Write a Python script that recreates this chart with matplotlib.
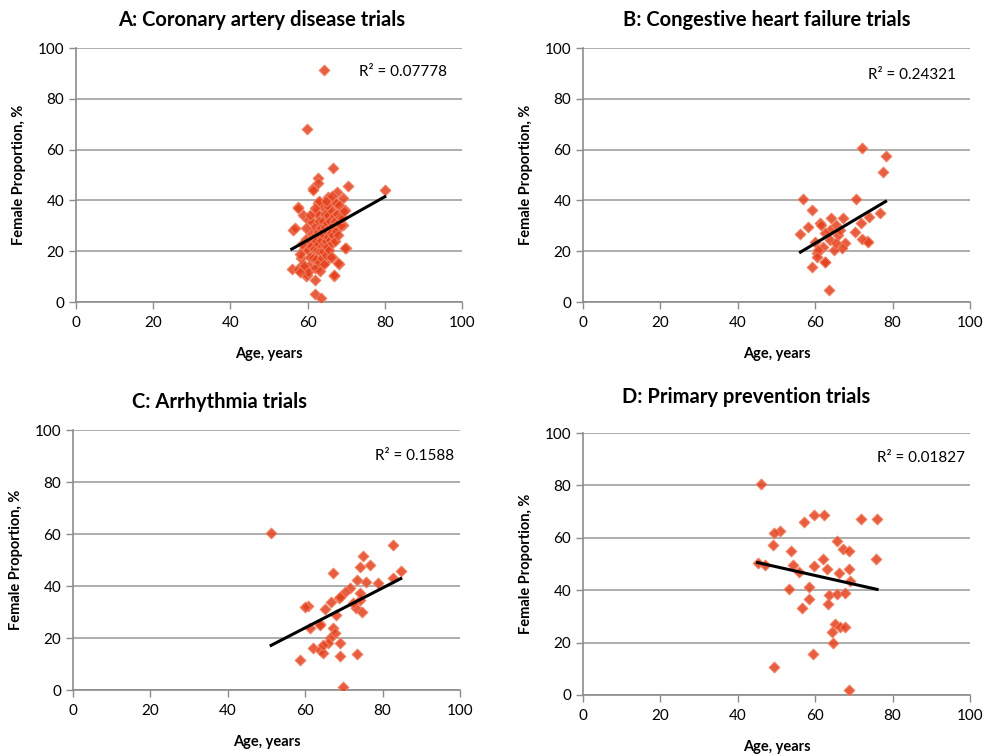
import numpy as np
import matplotlib.pyplot as plt

plt.rcParams['font.family'] = ['Lato', 'DejaVu Sans']

# A: coronary artery disease trials (age, female %)
a_age = [64.3, 59.9, 66.5, 62.8, 70.5, 61.5, 67.5, 57.6, 56.3, 55.9, 59.6, 61.9,
         66.9, 68.1, 70.0, 61.9, 63.4, 80.0, 62.8, 61.5, 65.4, 69.2, 57.6, 62.8,
         64.5, 67.1, 69.7, 58.9, 60.2, 56.7, 61.9, 65.4, 68.0, 69.2, 63.7, 68.0,
         69.7, 68.0, 59.8, 66.9, 62.8, 64.5, 61.0, 66.2,
         58.2, 58.8, 59.1, 59.4, 59.7, 60.0, 60.3, 60.4, 60.6, 60.8, 61.0, 61.1,
         61.3, 61.5, 61.6, 61.8, 62.0, 62.1, 62.2, 62.4, 62.5, 62.6, 62.8, 62.9,
         63.0, 63.1, 63.2, 63.3, 63.4, 63.5, 63.6, 63.7, 63.8, 63.9, 64.0, 64.1,
         64.2, 64.3, 64.4, 64.5, 64.6, 64.7, 64.8, 64.9, 65.0, 65.1, 65.2, 65.3,
         65.4, 65.5, 65.6, 65.7, 65.9, 66.0, 66.1, 66.3, 66.4, 66.5, 66.7, 66.8,
         67.0, 67.2, 67.3, 67.4, 67.6, 67.8, 68.0, 68.2, 68.4, 68.6, 68.9, 69.3,
         57.5, 57.9, 58.5, 59.0, 59.6, 60.1, 61.9, 63.0, 64.8, 66.2, 60.5, 58.0]
a_fem = [91.3, 68.1, 52.6, 48.7, 45.8, 44.8, 43.4, 37.5, 28.3, 12.9, 10.2, 8.7,
         10.2, 15.0, 21.1, 3.0, 1.5, 44.0, 46.7, 44.1, 41.5, 40.8, 36.9, 38.9,
         39.1, 38.9, 36.2, 34.3, 32.3, 29.0, 34.9, 36.2, 33.0, 30.3, 33.0, 29.0,
         21.4, 15.2, 10.6, 10.6, 13.9, 15.9, 17.2, 17.8,
         17.5, 15.0, 21.0, 13.5, 25.0, 20.6, 23.5, 14.0, 17.9, 27.2, 22.0, 31.6,
         17.3, 25.4, 20.8, 13.4, 29.4, 24.1, 17.0, 20.5, 35.0, 27.4, 22.9, 15.7,
         32.0, 26.3, 19.9, 12.4, 29.2, 24.4, 17.4, 37.8, 22.2, 28.1, 31.9, 19.9,
         26.2, 14.8, 34.7, 22.0, 29.6, 24.0, 18.6, 31.3, 27.5, 21.8, 37.8, 25.5,
         34.4, 20.4, 29.1, 24.4, 31.7, 17.6, 27.1, 35.8, 23.1, 30.3, 26.3, 33.7,
         24.0, 32.0, 39.0, 28.0, 34.5, 31.0, 26.5, 38.0, 33.5, 30.5, 33.0, 36.0,
         13.0, 19.0, 23.0, 14.0, 29.0, 12.0, 37.1, 39.8, 39.6, 41.7, 34.4, 12.0]

# B: congestive heart failure trials
b_age = [72.2, 78.2, 77.5, 56.8, 70.5, 59.1, 76.7, 74.0, 71.8, 56.2, 58.2, 61.2,
         64.2, 67.3, 70.3, 73.3, 72.0, 59.1, 62.6, 63.7, 60.4, 59.9, 62.1, 63.8,
         66.0, 67.7, 66.9, 64.8, 60.8, 61.5, 63.8, 65.5, 66.4, 62.5, 65.5, 73.7,
         60.4, 62.5]
b_fem = [60.7, 57.5, 51.0, 40.7, 40.7, 36.1, 34.9, 33.3, 31.2, 26.8, 29.4, 31.0,
         33.0, 33.0, 27.7, 24.1, 25.0, 13.9, 15.9, 4.7, 19.2, 23.7, 21.8, 24.4,
         26.4, 23.1, 21.1, 20.5, 20.5, 30.3, 28.3, 30.3, 28.3, 27.0, 23.1, 23.7,
         17.8, 15.9]

# C: arrhythmia trials
c_age = [51.2, 82.8, 75.0, 74.2, 76.7, 84.7, 82.6, 78.9, 75.7, 73.3, 67.3, 71.6,
         70.3, 68.8, 66.7, 65.1, 60.8, 60.0, 74.2, 73.1, 74.6, 68.0, 63.8, 61.2,
         67.3, 67.7, 66.4, 66.0, 69.0, 62.1, 63.8, 64.7, 58.7, 69.0, 73.3, 69.7,
         69.0, 74.2, 72.4, 63.8, 64.7]
c_fem = [60.5, 55.9, 51.7, 47.4, 48.1, 45.9, 43.2, 41.0, 41.7, 42.3, 44.9, 39.1,
         37.8, 35.3, 34.0, 31.2, 32.3, 32.0, 34.6, 31.4, 30.1, 28.8, 25.4, 23.7,
         23.7, 21.8, 19.9, 18.0, 18.2, 16.0, 15.4, 14.1, 11.5, 13.2, 13.7, 1.3,
         35.9, 37.2, 33.3, 25.0, 17.3]

# D: primary prevention trials
d_age = [45.9, 59.8, 62.3, 57.2, 71.8, 50.9, 49.4, 49.2, 65.6, 67.3, 68.8, 53.7,
         45.1, 47.0, 54.2, 55.9, 59.8, 61.9, 63.0, 66.2, 68.8, 68.9, 53.3, 58.4,
         58.4, 56.7, 63.6, 65.7, 67.7, 63.2, 65.1, 66.4, 67.7, 64.3, 64.7, 59.5,
         49.4, 68.7, 76.0, 75.8]
d_fem = [80.4, 68.6, 68.6, 66.0, 67.1, 62.6, 61.7, 57.3, 58.8, 55.7, 55.0, 55.0,
         50.3, 49.6, 49.6, 47.1, 49.4, 51.9, 48.0, 46.4, 48.0, 43.5, 40.3, 41.3,
         36.5, 33.3, 38.2, 38.5, 38.8, 34.7, 27.1, 26.1, 26.1, 23.9, 19.7, 15.6,
         10.8, 1.9, 67.0, 52.0]

titles = ['A: Coronary artery disease trials', 'B: Congestive heart failure trials',
          'C: Arrhythmia trials', 'D: Primary prevention trials']
r2_labels = ['R\u00b2 = 0.07778', 'R\u00b2 = 0.24321', 'R\u00b2 = 0.1588', 'R\u00b2 = 0.01827']

fig = plt.figure(figsize=(9.93, 7.56), dpi=100)

boxes = [[0.0765, 0.6005, 0.3888, 0.336],
         [0.5871, 0.6005, 0.3897, 0.336],
         [0.0735, 0.0873, 0.3897, 0.3439],
         [0.5871, 0.0807, 0.3897, 0.3465]]
title_pos = [(0.119, 0.9735), (0.627, 0.9735), (0.133, 0.468), (0.626, 0.475)]
r2_pos = [(73.3, 90.5), (73.6, 89.4), (78.0, 90.0), (76.0, 90.5)]
data = [(a_age, a_fem), (b_age, b_fem), (c_age, c_fem), (d_age, d_fem)]

for i in range(4):
    ax = fig.add_axes(boxes[i])
    x = np.array(data[i][0])
    y = np.array(data[i][1])

    ax.scatter(x, y, marker='D', s=30, color='#E5401D', edgecolors='#F08060',
               linewidths=0.8, alpha=0.85, zorder=3)

    # linear trendline, like excel
    k, b = np.polyfit(x, y, 1)
    xs = np.array([x.min(), x.max()])
    ax.plot(xs, k * xs + b, color='black', lw=2.2, zorder=4)

    ax.set_xlim(0, 100)
    ax.set_ylim(0, 100)
    ax.set_xticks(range(0, 101, 20))
    ax.set_yticks(range(0, 101, 20))
    ax.yaxis.grid(True, color='#a0a0a0', lw=1.2)
    ax.set_axisbelow(True)
    for s in ['top', 'right']:
        ax.spines[s].set_visible(False)
    for s in ['left', 'bottom']:
        ax.spines[s].set_color('#8c8c8c')
        ax.spines[s].set_linewidth(1.2)
    ax.tick_params(colors='#8c8c8c', labelcolor='black', labelsize=11,
                   length=5, width=1)
    ax.tick_params(axis='x', pad=5)

    ax.set_xlabel('Age, years', fontsize=10.5, fontweight='bold', labelpad=12)
    ax.set_ylabel('Female Proportion, %', fontsize=10.5, fontweight='bold', labelpad=8)
    ax.text(r2_pos[i][0], r2_pos[i][1], r2_labels[i], fontsize=11, va='center')

    fig.text(title_pos[i][0], title_pos[i][1], titles[i], fontsize=14.5,
             fontweight='bold', va='center')

fig.savefig('out.png', dpi=100)
